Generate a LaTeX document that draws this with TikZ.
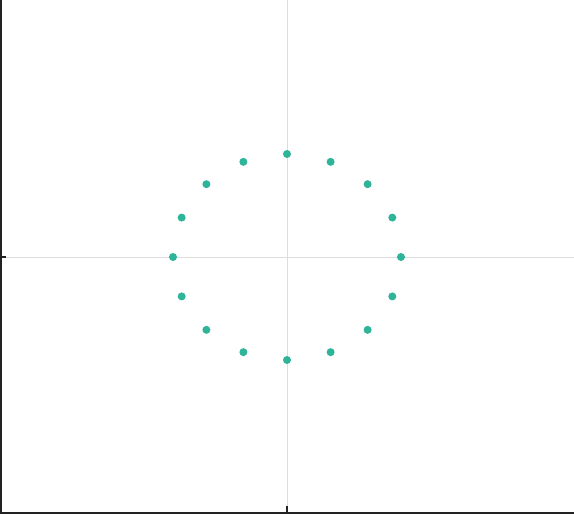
\documentclass[tikz,border=0pt]{standalone}
\definecolor{dotc}{RGB}{46,180,152}
\definecolor{gridc}{RGB}{221,221,221}
\definecolor{axisc}{RGB}{34,34,34}
\begin{document}
\begin{tikzpicture}[x=1pt,y=-1pt,
  gridline/.style={draw=gridc,line width=1pt},
  axisline/.style={draw=axisc,line width=2pt},
  tickmark/.style={draw=axisc,line width=1.5pt},
  pt/.style={circle,fill=dotc,inner sep=0pt,minimum size=8pt}]
\useasboundingbox (0,0) rectangle (574,514);
\fill[white] (0,0) rectangle (574,514);
\draw[gridline] (287,0) -- (287,512);
\draw[gridline] (2,257) -- (574,257);
\draw[axisline] (1,0) -- (1,514);
\draw[axisline] (0,512.5) -- (574,512.5);
\draw[tickmark] (0,257) -- (6,257);
\draw[tickmark] (287,506) -- (287,513);
\foreach \i in {0,...,15}{
  \node[pt] (p\i) at ({287+114*cos(22.5*\i)},{257-103*sin(22.5*\i)}) {};
}
\end{tikzpicture}
\end{document}
